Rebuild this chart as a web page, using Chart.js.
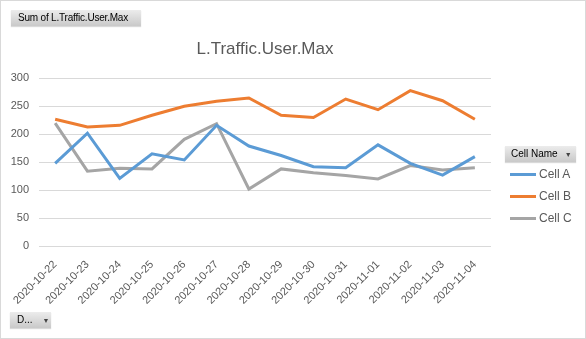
<!DOCTYPE html>
<html>
<head>
<meta charset="utf-8">
<script src="https://cdn.jsdelivr.net/npm/chart.js@4/dist/chart.umd.min.js"></script>
<style>
  html, body { margin: 0; padding: 0; background: #fff; }
  #wrap {
    position: relative; width: 586px; height: 339px; box-sizing: border-box;
    border: 1px solid #d9d9d9; font-family: "Liberation Sans", Arial, sans-serif;
  }
  #chart { position: absolute; left: 0; top: 0; }
  .btn {
    position: absolute; height: 16px; line-height: 16px; font-size: 10px; color: #000;
    background: linear-gradient(#ececec, #c9c9c9); box-shadow: 0 1px 1px rgba(0,0,0,0.15);
    padding: 0 0 0 7px; box-sizing: border-box; white-space: nowrap; overflow: hidden;
  }
  .arrow { font-size: 7px; color: #444; margin-left: 10px; }
  #legend { position: absolute; left: 509px; top: 162px; font-size: 12px; color: #595959; }
  .item { height: 22px; display: flex; align-items: center; }
  .swatch { width: 26px; height: 3px; margin-right: 3px; }
</style>
</head>
<body>
<div id="wrap">
  <canvas id="chart" width="586" height="339"></canvas>
  <div class="btn" style="left:10px; top:9px; width:130px; letter-spacing:-0.2px;">Sum of L.Traffic.User.Max</div>
  <div class="btn" style="left:9px; top:311px; width:41px;">D...<span class="arrow">&#9660;</span></div>
  <div class="btn" style="left:504px; top:145px; width:71px; padding-left:6px;">Cell Name<span class="arrow" style="margin-left:7px">&#9660;</span></div>
  <div id="legend"></div>
</div>
<script>
// Chart data
const dates = ['2020-10-22', '2020-10-23', '2020-10-24', '2020-10-25', '2020-10-26', '2020-10-27', '2020-10-28',
    '2020-10-29', '2020-10-30', '2020-10-31', '2020-11-01', '2020-11-02', '2020-11-03', '2020-11-04'];
const cellA = [148, 202, 121, 165, 154, 216, 179, 162, 142, 140, 181, 148, 127, 160];
const cellB = [227, 213, 216, 234, 250, 259, 265, 234, 230, 263, 244, 278, 260, 227];
const cellC = [220, 134, 139, 138, 191, 219, 102, 138, 131, 126, 120, 144, 136, 140];
const seriesNames = ['Cell A', 'Cell B', 'Cell C'];
const seriesColors = ['#5b9bd5', '#ed7d31', '#a5a5a5'];
const yTicks = [0, 50, 100, 150, 200, 250, 300];

const seriesValues = [cellA, cellB, cellC];

// Legend on the right
const legend = document.getElementById('legend');
seriesNames.forEach((name, i) => {
    const item = document.createElement('div');
    item.className = 'item';
    item.innerHTML = '<span class="swatch" style="background:' + seriesColors[i] + '"></span>' + name;
    legend.appendChild(item);
});

const ctx = document.getElementById('chart').getContext('2d');
new Chart(ctx, {
    type: 'line',
    data: {
        labels: dates,
        datasets: seriesNames.map((name, i) => ({
            label: name,
            data: seriesValues[i],
            borderColor: seriesColors[i],
            backgroundColor: seriesColors[i],
            borderWidth: 3,
            pointRadius: 0,
            tension: 0
        }))
    },
    options: {
        responsive: false,
        animation: false,
        layout: { padding: { top: 30, right: 96, bottom: 0, left: 0 } },
        plugins: {
            legend: { display: false },
            tooltip: { enabled: false },
            title: {
                display: true,
                text: 'L.Traffic.User.Max',
                fullSize: false,
                color: '#595959',
                font: { family: 'Liberation Sans', size: 17, weight: 'normal' },
                padding: { top: 8, bottom: 19 }
            }
        },
        scales: {
            x: {
                offset: true,
                grid: { display: false },
                border: { display: false },
                ticks: {
                    autoSkip: false,
                    minRotation: 45,
                    maxRotation: 45,
                    padding: 4,
                    color: '#595959',
                    font: { family: 'Liberation Sans', size: 11 }
                },
                afterFit: scale => { scale.height = 94; }
            },
            y: {
                min: yTicks[0],
                max: yTicks[yTicks.length - 1],
                afterBuildTicks: scale => { scale.ticks = yTicks.map(v => ({ value: v })); },
                grid: { color: '#d9d9d9', drawTicks: false },
                border: { display: false },
                ticks: {
                    padding: 10,
                    color: '#595959',
                    font: { family: 'Liberation Sans', size: 11 }
                },
                afterFit: scale => { scale.width = 38; }
            }
        }
    }
});
</script>
</body>
</html>
